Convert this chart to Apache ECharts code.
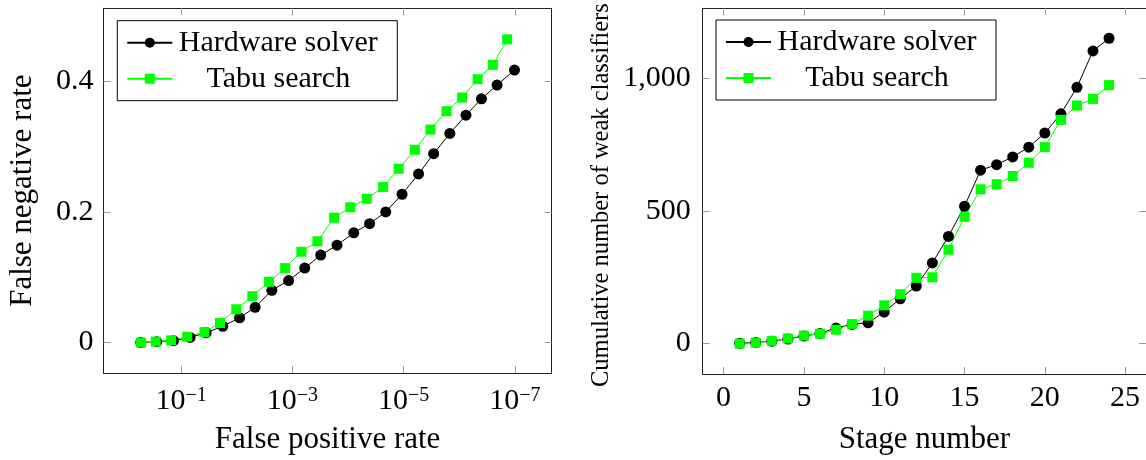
<!DOCTYPE html>
<html>
<head>
<meta charset="utf-8">
<script src="https://cdn.jsdelivr.net/npm/echarts@6/dist/echarts.min.js"></script>
<style>
  html, body { margin: 0; padding: 0; background: #fff; }
  #chart { width: 1146px; height: 460px; }
</style>
</head>
<body>
<div id="chart"></div>
<script>
// Left panel: false negative rate against false positive rate (log scale, decreasing to the right)
const fprHardware = [0.531, 0.274, 0.137, 0.0689, 0.0355, 0.0178, 0.0089, 0.00468, 0.00234, 0.00117,
  6.0e-4, 3.1e-4, 1.58e-4, 7.9e-5, 4.1e-5, 2.1e-5, 1.07e-5, 5.4e-6, 2.9e-6, 1.48e-6,
  7.6e-7, 4.0e-7, 2.1e-7, 1.02e-7];
const fnrHardware = [0, 0.0015, 0.003, 0.008, 0.015, 0.025, 0.038, 0.054, 0.080, 0.095,
  0.114, 0.134, 0.149, 0.168, 0.182, 0.200, 0.227, 0.258, 0.289, 0.320,
  0.348, 0.373, 0.394, 0.417];
const fprTabu = [0.525, 0.286, 0.151, 0.0776, 0.038, 0.020, 0.0102, 0.00525, 0.00263, 0.00135,
  6.9e-4, 3.55e-4, 1.78e-4, 9.1e-5, 4.6e-5, 2.34e-5, 1.23e-5, 6.3e-6, 3.3e-6, 1.7e-6,
  8.9e-7, 4.7e-7, 2.5e-7, 1.38e-7];
const fnrTabu = [0, 0.0015, 0.0035, 0.009, 0.016, 0.030, 0.051, 0.071, 0.093, 0.114,
  0.139, 0.155, 0.191, 0.207, 0.220, 0.238, 0.266, 0.295, 0.326, 0.354,
  0.375, 0.403, 0.425, 0.464];
const fprTicks = [1e-1, 1e-3, 1e-5, 1e-7];
const fnrTicks = [0, 0.2, 0.4];

// Right panel: cumulative number of weak classifiers per stage
const stages = [1, 2, 3, 4, 5, 6, 7, 8, 9, 10, 11, 12, 13, 14, 15, 16, 17, 18, 19, 20, 21, 22, 23, 24];
const weakHardware = [1, 4, 9, 17, 28, 38, 59, 72, 78, 119, 169, 217, 304, 404, 518, 654,
  675, 704, 741, 794, 867, 967, 1104, 1152];
const weakTabu = [0, 3, 10, 19, 30, 37, 52, 74, 105, 144, 186, 248, 250, 354, 478, 582,
  601, 632, 682, 741, 844, 898, 923, 975];
const stageTicks = [0, 5, 10, 15, 20, 25];
const weakTicks = [0, 500, 1000];

const seriesNames = ['Hardware solver', 'Tabu search'];

const FONT = 'Liberation Serif';
const INK = '#000';
const GREEN = '#00ff00';
const BOX = '#222';
const TICK = '#9a9a9a';

const zip = (xs, ys) => xs.map((x, i) => [x, ys[i]]);

function powerLabel(v) {
  const e = Math.round(Math.log10(v));
  return '{b|10}{s|' + (e < 0 ? '\u2212' + (-e) : String(e)) + '}';
}
const powerRich = {
  b: { fontFamily: FONT, fontSize: 30, lineHeight: 30, color: INK },
  s: { fontFamily: FONT, fontSize: 20, lineHeight: 12, verticalAlign: 'top', color: INK }
};

function axisBase(extra) {
  return Object.assign({
    axisLine: { show: true, onZero: false, lineStyle: { color: BOX, width: 1 } },
    splitLine: { show: false },
    nameTextStyle: { fontFamily: FONT, fontSize: 31, color: INK }
  }, extra);
}
function ticks(values) {
  return { show: true, inside: true, length: 7, lineStyle: { color: TICK, width: 1 }, customValues: values };
}
function labels(values, extra) {
  return Object.assign({
    show: true, customValues: values,
    fontFamily: FONT, fontSize: 30, color: INK
  }, extra);
}
const noLabels = { show: false };

const fprMin = Math.pow(10, -7.66);
const fprMax = Math.pow(10, 0.395);

const option = {
  animation: false,
  backgroundColor: '#fff',
  grid: [
    { left: 103.5, top: 8.3, width: 448.2, height: 371.7 },
    { left: 702.7, top: 8.3, width: 447.5, height: 371.7 }
  ],
  xAxis: [
    axisBase({
      gridIndex: 0, type: 'log', logBase: 10, inverse: true, min: fprMin, max: fprMax,
      position: 'bottom',
      axisTick: ticks(fprTicks),
      axisLabel: labels(fprTicks, { margin: 13, formatter: powerLabel, rich: powerRich }),
      name: 'False positive rate', nameLocation: 'middle', nameGap: 51
    }),
    axisBase({
      gridIndex: 0, type: 'log', logBase: 10, inverse: true, min: fprMin, max: fprMax,
      position: 'top',
      axisTick: ticks(fprTicks),
      axisLabel: noLabels
    }),
    axisBase({
      gridIndex: 1, type: 'value', min: -1.3, max: 26.3,
      position: 'bottom',
      axisTick: ticks(stageTicks),
      axisLabel: labels(stageTicks, { margin: 9, lineHeight: 30 }),
      name: 'Stage number', nameLocation: 'middle', nameGap: 50
    }),
    axisBase({
      gridIndex: 1, type: 'value', min: -1.3, max: 26.3,
      position: 'top',
      axisTick: ticks(stageTicks),
      axisLabel: noLabels
    })
  ],
  yAxis: [
    axisBase({
      gridIndex: 0, type: 'value', min: -0.0465, max: 0.5115,
      position: 'left',
      axisTick: ticks(fnrTicks),
      axisLabel: labels(fnrTicks, { margin: 10 }),
      name: 'False negative rate', nameLocation: 'middle', nameRotate: 90, nameGap: 65
    }),
    axisBase({
      gridIndex: 0, type: 'value', min: -0.0465, max: 0.5115,
      position: 'right',
      axisTick: ticks(fnrTicks),
      axisLabel: noLabels
    }),
    axisBase({
      gridIndex: 1, type: 'value', min: -115, max: 1265,
      position: 'left',
      axisTick: ticks(weakTicks),
      axisLabel: labels(weakTicks, {
        margin: 12,
        formatter: v => String(v).replace(/\B(?=(\d{3})+(?!\d))/g, ',')
      }),
      name: 'Cumulative number of weak classifiers', nameLocation: 'middle', nameRotate: 90, nameGap: 89,
      nameTextStyle: { fontFamily: FONT, fontSize: 24.5, color: INK, padding: [0, 8, 0, 0] }
    }),
    axisBase({
      gridIndex: 1, type: 'value', min: -115, max: 1265,
      position: 'right',
      axisTick: ticks(weakTicks),
      axisLabel: noLabels
    })
  ],
  legend: [0, 1].map(i => ({
    data: seriesNames,
    orient: 'vertical',
    align: 'left',
    left: i === 0 ? 117.3 : 716,
    top: i === 0 ? 20.7 : 20,
    padding: [7, 18, 7, 9],
    itemGap: 6,
    itemWidth: 45,
    itemHeight: 12.5,
    backgroundColor: '#fff',
    borderColor: '#000',
    borderWidth: 1,
    borderRadius: 0,
    selectedMode: false,
    formatter: name => '{t|' + name + '}',
    textStyle: {
      color: INK,
      rich: { t: { fontFamily: FONT, fontSize: 30, lineHeight: 30, width: 202, align: 'center', color: INK } }
    }
  })),
  series: [
    {
      name: seriesNames[0], type: 'line', xAxisIndex: 0, yAxisIndex: 0,
      data: zip(fprHardware, fnrHardware),
      symbol: 'circle', symbolSize: 11,
      lineStyle: { color: INK, width: 1 }, itemStyle: { color: INK }
    },
    {
      name: seriesNames[1], type: 'line', xAxisIndex: 0, yAxisIndex: 0,
      data: zip(fprTabu, fnrTabu),
      symbol: 'rect', symbolSize: 10,
      lineStyle: { color: GREEN, width: 1 }, itemStyle: { color: GREEN }
    },
    {
      name: seriesNames[0], type: 'line', xAxisIndex: 2, yAxisIndex: 2,
      data: zip(stages, weakHardware),
      symbol: 'circle', symbolSize: 11,
      lineStyle: { color: INK, width: 1 }, itemStyle: { color: INK }
    },
    {
      name: seriesNames[1], type: 'line', xAxisIndex: 2, yAxisIndex: 2,
      data: zip(stages, weakTabu),
      symbol: 'rect', symbolSize: 10,
      lineStyle: { color: GREEN, width: 1 }, itemStyle: { color: GREEN }
    }
  ]
};

const chart = echarts.init(document.getElementById('chart'), null, { renderer: 'canvas' });
chart.setOption(option);
</script>
</body>
</html>
